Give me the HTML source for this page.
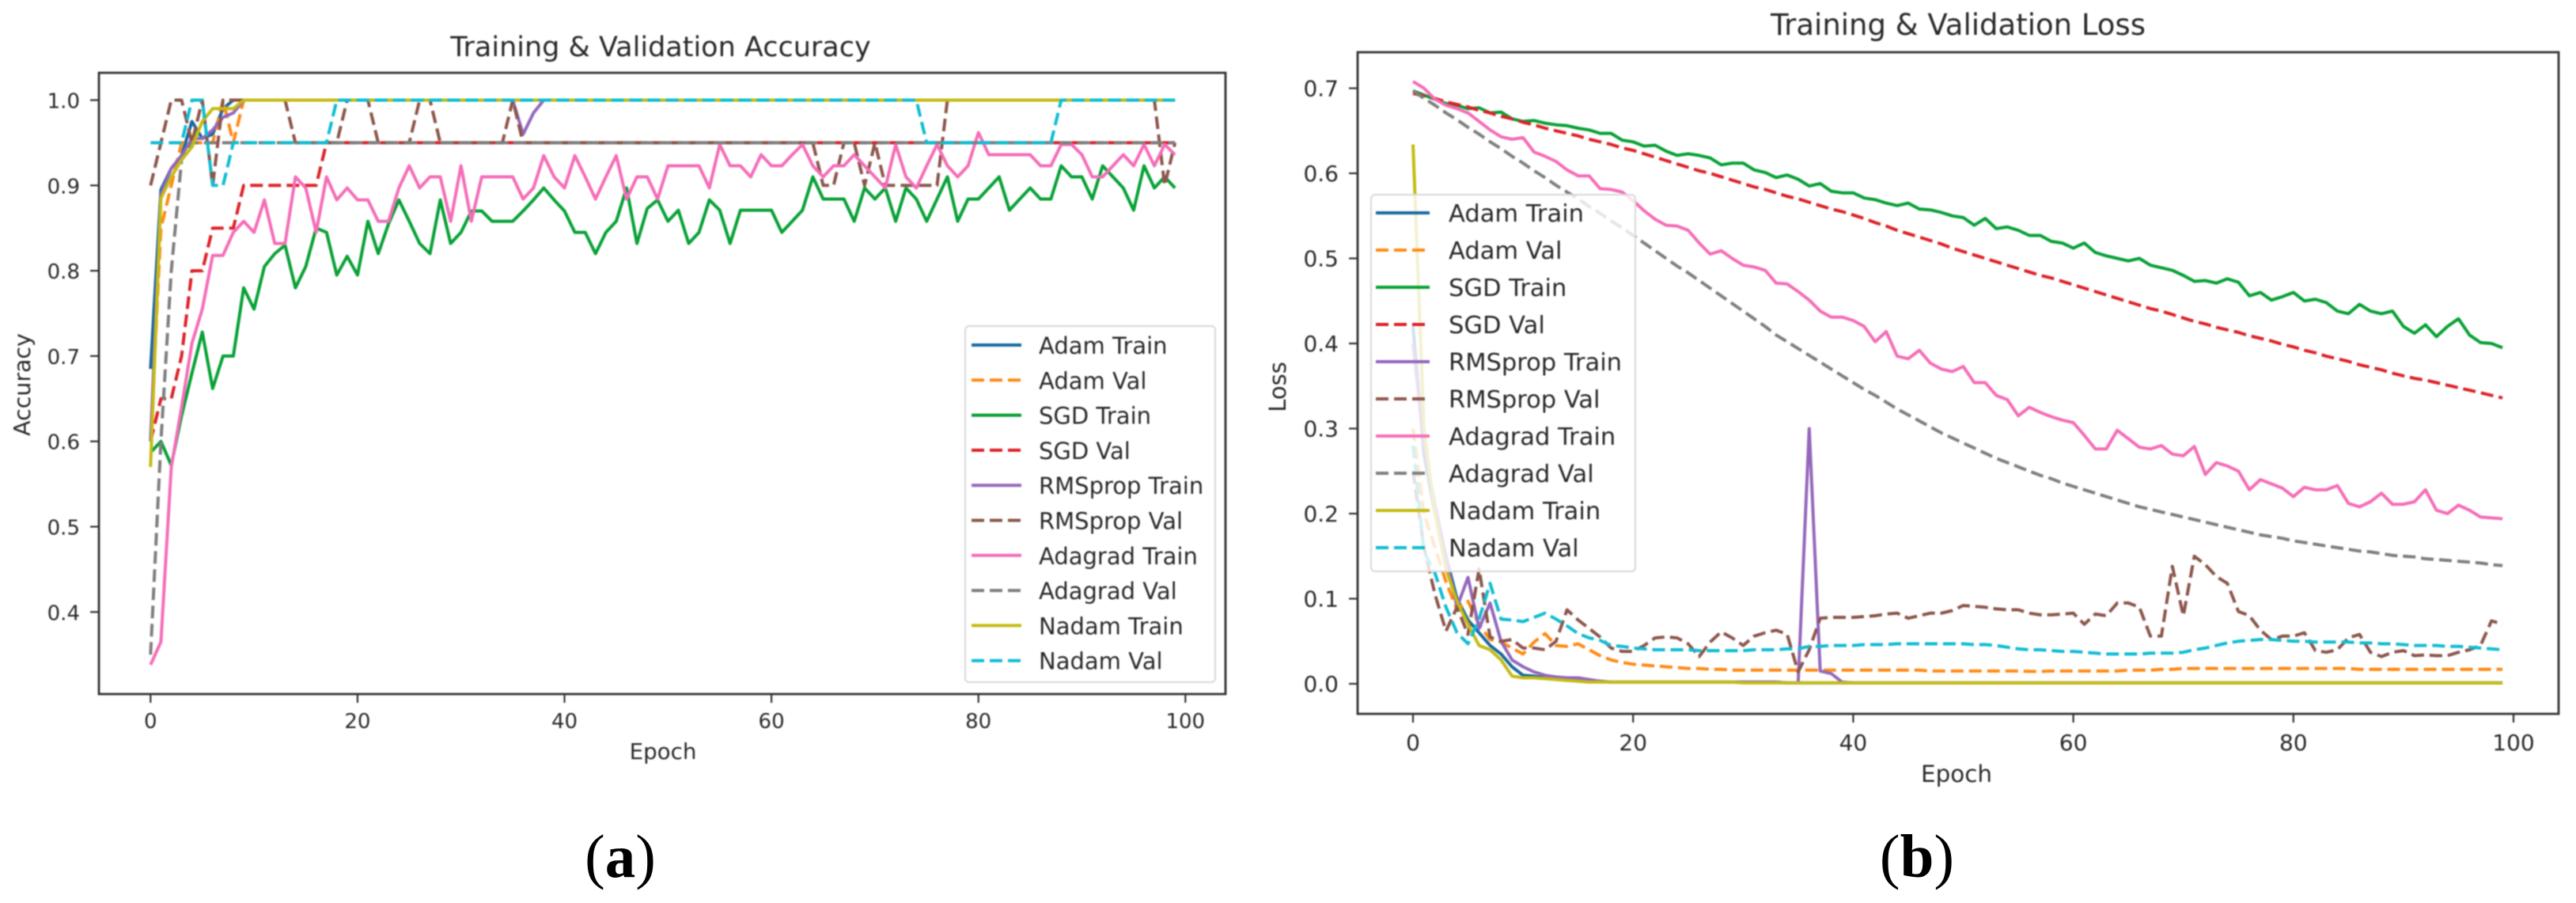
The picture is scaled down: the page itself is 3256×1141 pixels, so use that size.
<!DOCTYPE html>
<html lang="en">
<head>
<meta charset="utf-8">
<title>Training and Validation Curves</title>
<style>
html,body{margin:0;padding:0;background:#fff;width:3256px;height:1141px;overflow:hidden}
svg{display:block}
.dv{font-family:"DejaVu Sans","Liberation Sans",sans-serif;fill:#2a2a2a}
.cap{font-family:"Liberation Serif",serif;fill:#000;font-size:77px}
</style>
</head>
<body>
<svg id="fig" xmlns="http://www.w3.org/2000/svg" width="3256" height="1141" viewBox="0 0 3256 1141">
  <rect x="0" y="0" width="3256" height="1141" fill="#fff"/>
  <g id="chartA" style="filter:blur(0.7px)">
    <text class="dv" x="835" y="71" font-size="35" text-anchor="middle">Training &amp; Validation Accuracy</text>
    <text class="dv" x="838" y="959" font-size="27.7" text-anchor="middle">Epoch</text>
    <text class="dv" x="0" y="0" font-size="28.4" text-anchor="middle" transform="translate(38 486) rotate(-90)">Accuracy</text>
  </g>
  <g id="chartB" style="filter:blur(0.7px)">
    <text class="dv" x="2475" y="44" font-size="37" text-anchor="middle">Training &amp; Validation Loss</text>
    <text class="dv" x="2473" y="988" font-size="29.4" text-anchor="middle">Epoch</text>
    <text class="dv" x="0" y="0" font-size="29" text-anchor="middle" transform="translate(1625 489) rotate(-90)">Loss</text>
  </g>
  <text class="cap" x="784" y="1108" text-anchor="middle">(<tspan font-weight="bold">a</tspan>)</text>
  <text class="cap" x="2423" y="1108" text-anchor="middle">(<tspan font-weight="bold">b</tspan>)</text>
</svg>
<script>
const seriesNames = ["Adam Train","Adam Val","SGD Train","SGD Val","RMSprop Train","RMSprop Val","Adagrad Train","Adagrad Val","Nadam Train","Nadam Val"];
const accTickLabelsY = ["0.4","0.5","0.6","0.7","0.8","0.9","1.0"];
const lossTickLabelsY = ["0.0","0.1","0.2","0.3","0.4","0.5","0.6","0.7"];
const epochTickLabels = ["0","20","40","60","80","100"];

const accAdamTrain = [.685,.895,.92,.935,.975,.955,.96,.99,1,1,
1,1,1,1,1,1,1,1,1,1,1,1,1,1,1,1,1,1,1,1,
1,1,1,1,1,1,1,1,1,1,1,1,1,1,1,1,1,1,1,1,
1,1,1,1,1,1,1,1,1,1,1,1,1,1,1,1,1,1,1,1,
1,1,1,1,1,1,1,1,1,1,1,1,1,1,1,1,1,1,1,1];
const accAdamVal = [.6,.85,.9,.95,.95,.95,.95,1,.95,1,
1,1,1,1,1,1,1,1,1,1,1,1,1,1,1,1,1,1,1,1,
1,1,1,1,1,1,1,1,1,1,1,1,1,1,1,1,1,1,1,1,
1,1,1,1,1,1,1,1,1,1,1,1,1,1,1,1,1,1,1,1,
1,1,1,1,1,1,1,1,1,1,1,1,1,1,1,1,1,1,1,1];
const accSgdTrain = [.587,.6,.572,.63,.68,.728,.662,.70,.70,.78,
.755,.805,.82,.83,.78,.805,.85,.845,.795,.817,
.795,.858,.82,.855,.883,.858,.832,.82,.883,.832,
.845,.87,.87,.858,.858,.858,.87,.883,.897,.883,
.87,.845,.845,.82,.845,.858,.897,.832,.873,.883,
.858,.871,.832,.845,.883,.871,.832,.871,.871,.871,
.871,.845,.858,.871,.91,.884,.884,.884,.858,.897,
.884,.897,.858,.897,.884,.858,.884,.91,.858,.884,
.884,.897,.91,.871,.884,.897,.884,.884,.923,.91,
.91,.884,.923,.91,.897,.871,.923,.897,.91,.897];
const accSgdVal = [.6,.65,.65,.7,.8,.8,.85,.85,.85,.9,
.9,.9,.9,.9,.9,.9,.9,.95,.95,.95,
.95,.95,.95,.95,.95,.95,.95,.95,.95,.95,
.95,.95,.95,.95,.95,.95,.95,.95,.95,.95,
.95,.95,.95,.95,.95,.95,.95,.95,.95,.95,
.95,.95,.95,.95,.95,.95,.95,.95,.95,.95,
.95,.95,.95,.95,.95,.95,.95,.95,.95,.95,
.95,.95,.95,.95,.95,.95,.95,.95,.95,.95,
.95,.95,.95,.95,.95,.95,.95,.95,.95,.95,
.95,.95,.95,.95,.95,.95,.95,.95,.95,.95];
const accRmsTrain = [.6,.89,.92,.935,.955,.955,.965,.98,.985,1,
1,1,1,1,1,1,1,1,1,1,1,1,1,1,1,1,1,1,1,1,
1,1,1,1,1,1,.96,.985,1,1,
1,1,1,1,1,1,1,1,1,1,1,1,1,1,1,1,1,1,1,1,
1,1,1,1,1,1,1,1,1,1,1,1,1,1,1,1,1,1,1,1,
1,1,1,1,1,1,1,1,1,1,1,1,1,1,1,1,1,1,1,1];
const accRmsVal = [.9,.95,1,1,.95,1,.9,1,1,1,
1,1,1,1,.95,.95,.95,.95,.95,1,
1,1,.95,.95,.95,.95,1,1,.95,.95,
.95,.95,.95,.95,.95,1,.95,.95,.95,.95,
.95,.95,.95,.95,.95,.95,.95,.95,.95,.95,
.95,.95,.95,.95,.95,.95,.95,.95,.95,.95,
.95,.95,.95,.95,.95,.9,.9,.95,.95,.9,
.95,.9,.9,.9,.9,.9,.9,1,1,1,
1,1,1,1,1,1,1,1,1,1,
1,1,1,1,1,1,1,1,.9,.95];
const accAdagradTrain = [.338,.365,.57,.64,.715,.755,.818,.818,.845,.858,
.845,.883,.832,.832,.91,.897,.845,.91,.883,.897,
.883,.883,.858,.858,.897,.923,.897,.91,.91,.858,
.923,.858,.91,.91,.91,.91,.884,.897,.935,.91,
.897,.935,.91,.884,.91,.935,.884,.91,.91,.884,
.923,.923,.923,.923,.897,.948,.923,.923,.91,.936,
.923,.923,.936,.948,.923,.91,.923,.923,.936,.923,
.91,.897,.948,.91,.897,.923,.948,.923,.91,.923,
.962,.936,.936,.936,.936,.936,.923,.923,.948,.948,
.936,.91,.91,.923,.936,.923,.948,.923,.948,.936];
const accAdagradVal = [.35,.6,.8,.93,.95,.95,.95,.95,.95,.95,
.95,.95,.95,.95,.95,.95,.95,.95,.95,.95,
.95,.95,.95,.95,.95,.95,.95,.95,.95,.95,
.95,.95,.95,.95,.95,.95,.95,.95,.95,.95,
.95,.95,.95,.95,.95,.95,.95,.95,.95,.95,
.95,.95,.95,.95,.95,.95,.95,.95,.95,.95,
.95,.95,.95,.95,.95,.95,.95,.95,.95,.95,
.95,.95,.95,.95,.95,.95,.95,.95,.95,.95,
.95,.95,.95,.95,.95,.95,.95,.95,.95,.95,
.95,.95,.95,.95,.95,.95,.95,.95,.95,.95];
const accNadamTrain = [.57,.885,.91,.93,.945,.975,.99,.99,.99,1,
1,1,1,1,1,1,1,1,1,1,1,1,1,1,1,1,1,1,1,1,
1,1,1,1,1,1,1,1,1,1,1,1,1,1,1,1,1,1,1,1,
1,1,1,1,1,1,1,1,1,1,1,1,1,1,1,1,1,1,1,1,
1,1,1,1,1,1,1,1,1,1,1,1,1,1,1,1,1,1,1,1,
1,1,1,1,1,1,1,1,1,1];
const accNadamVal = [.95,.95,.95,.95,1,1,.9,.9,.95,.95,
.95,.95,.95,.95,.95,.95,.95,.95,1,1,
1,1,1,1,1,1,1,1,1,1,1,1,1,1,1,1,1,1,1,1,
1,1,1,1,1,1,1,1,1,1,1,1,1,1,1,1,1,1,1,1,
1,1,1,1,1,1,1,1,1,1,1,1,1,1,1,.95,.95,.95,.95,.95,
.95,.95,.95,.95,.95,.95,.95,.95,1,1,
1,1,1,1,1,1,1,1,1,1];

const lossAdamTrain = [.42,.27,.2,.15,.1,.075,.06,.045,.035,.02,
.01,.009,.007,.006,.005,.004,.003,.003,.002,.002,
.002,.002,.002,.002,.002,.002,.002,.002,.002,.002,
.002,.002,.002,.002,.001,.001,.001,.001,.001,.001,
.001,.001,.001,.001,.001,.001,.001,.001,.001,.001,
.001,.001,.001,.001,.001,.001,.001,.001,.001,.001,
.001,.001,.001,.001,.001,.001,.001,.001,.001,.001,
.001,.001,.001,.001,.001,.001,.001,.001,.001,.001,
.001,.001,.001,.001,.001,.001,.001,.001,.001,.001,
.001,.001,.001,.001,.001,.001,.001,.001,.001,.001];
const lossAdamVal = [.3,.2,.16,.12,.087,.097,.07,.052,.049,.042,
.035,.049,.059,.045,.044,.047,.04,.033,.028,.025,
.023,.022,.021,.02,.019,.018,.018,.017,.017,.016,
.016,.016,.016,.016,.016,.016,.016,.016,.016,.016,
.016,.016,.016,.016,.016,.016,.016,.015,.015,.015,
.015,.015,.015,.015,.015,.015,.0145,.0145,.015,.015,
.015,.015,.015,.015,.015,.016,.016,.016,.017,.017,
.018,.018,.018,.018,.018,.018,.018,.018,.018,.018,
.018,.018,.018,.018,.018,.018,.017,.017,.017,.017,
.017,.017,.017,.017,.017,.017,.017,.017,.017,.017];
const lossSgdTrain = [.697,.692,.687,.682,.68,.676,.677,.671,.672,.664,
.661,.662,.659,.657,.656,.653,.651,.647,.647,.639,
.637,.632,.633,.626,.621,.623,.621,.618,.61,.612,
.612,.604,.601,.595,.598,.593,.585,.588,.579,.577,
.577,.571,.569,.565,.562,.565,.558,.557,.554,.55,
.548,.539,.547,.535,.537,.533,.527,.527,.52,.518,
.512,.518,.507,.503,.5,.497,.5,.492,.489,.486,
.48,.473,.474,.471,.476,.472,.456,.46,.451,.455,
.46,.45,.452,.448,.438,.435,.446,.438,.435,.438,
.42,.412,.422,.408,.42,.429,.41,.401,.4,.395];
const lossSgdVal = [.694,.691,.688,.684,.681,.678,.674,.671,.667,.664,
.66,.657,.653,.65,.647,.644,.64,.637,.634,.63,
.627,.623,.619,.615,.611,.607,.603,.6,.596,.592,
.588,.584,.581,.577,.573,.57,.566,.562,.558,.555,
.551,.547,.542,.538,.533,.529,.525,.521,.517,.512,
.508,.504,.5,.496,.492,.488,.484,.48,.477,.473,
.469,.465,.461,.457,.453,.449,.445,.441,.438,.434,
.43,.426,.423,.419,.416,.413,.409,.406,.403,.399,
.396,.392,.389,.385,.382,.379,.375,.372,.369,.365,
.362,.359,.357,.354,.351,.348,.345,.342,.339,.336];
const lossRmsTrain = [.4,.28,.21,.15,.09,.125,.065,.095,.05,.028,
.02,.014,.01,.008,.007,.007,.005,.003,.002,.002,
.002,.002,.002,.002,.002,.002,.002,.002,.002,.002,
.002,.002,.002,.002,.001,.001,.30,.015,.012,.002,
.001,.001,.001,.001,.001,.001,.001,.001,.001,.001,
.001,.001,.001,.001,.001,.001,.001,.001,.001,.001,
.001,.001,.001,.001,.001,.001,.001,.001,.001,.001,
.001,.001,.001,.001,.001,.001,.001,.001,.001,.001,
.001,.001,.001,.001,.001,.001,.001,.001,.001,.001,
.001,.001,.001,.001,.001,.001,.001,.001,.001,.001];
const lossRmsVal = [.25,.16,.105,.062,.09,.058,.135,.055,.05,.052,
.042,.042,.04,.05,.087,.075,.065,.055,.042,.038,
.038,.045,.054,.055,.054,.047,.032,.049,.061,.054,
.045,.056,.06,.063,.058,.014,.04,.077,.078,.078,
.078,.079,.08,.082,.083,.077,.08,.083,.083,.086,
.092,.091,.09,.088,.087,.087,.083,.081,.081,.082,
.083,.07,.082,.08,.095,.095,.09,.056,.056,.138,
.08,.15,.14,.126,.118,.085,.08,.063,.052,.056,
.056,.06,.039,.037,.04,.054,.058,.037,.032,.037,
.039,.033,.034,.033,.033,.037,.04,.045,.074,.07];
const lossAdagradTrain = [.708,.7,.687,.68,.676,.671,.661,.651,.643,.64,
.642,.625,.62,.614,.604,.597,.597,.582,.581,.578,
.568,.556,.546,.539,.538,.533,.518,.505,.509,.5,
.492,.49,.486,.471,.47,.461,.451,.438,.431,.431,
.427,.42,.402,.414,.385,.382,.392,.377,.37,.367,
.373,.354,.354,.339,.334,.315,.325,.319,.314,.31,
.307,.292,.276,.276,.298,.288,.278,.276,.28,.27,
.268,.279,.246,.26,.256,.25,.228,.24,.235,.23,
.22,.231,.228,.228,.233,.212,.208,.214,.224,.211,
.211,.214,.228,.204,.2,.21,.204,.196,.195,.194];
const lossAdagradVal = [.697,.688,.68,.671,.663,.654,.646,.637,.629,.62,
.612,.603,.595,.586,.578,.57,.561,.553,.544,.536,
.527,.518,.509,.5,.491,.483,.474,.465,.456,.447,
.438,.429,.42,.41,.402,.394,.386,.378,.37,.362,
.354,.346,.339,.331,.323,.316,.309,.302,.295,.289,
.283,.277,.271,.265,.26,.255,.25,.245,.241,.236,
.232,.228,.224,.22,.216,.212,.208,.205,.202,.199,
.196,.193,.19,.187,.184,.181,.178,.175,.173,.171,
.168,.166,.164,.162,.16,.158,.156,.155,.153,.151,
.15,.149,.147,.146,.145,.144,.143,.142,.14,.139];
const lossNadamTrain = [.634,.3,.2,.135,.097,.07,.045,.04,.028,.009,
.007,.007,.006,.005,.004,.003,.002,.002,.002,.002,
.002,.002,.002,.002,.002,.002,.002,.002,.002,.002,
.001,.001,.001,.001,.001,.001,.001,.001,.001,.001,
.001,.001,.001,.001,.001,.001,.001,.001,.001,.001,
.001,.001,.001,.001,.001,.001,.001,.001,.001,.001,
.001,.001,.001,.001,.001,.001,.001,.001,.001,.001,
.001,.001,.001,.001,.001,.001,.001,.001,.001,.001,
.001,.001,.001,.001,.001,.001,.001,.001,.001,.001,
.001,.001,.001,.001,.001,.001,.001,.001,.001,.001];
const lossNadamVal = [.28,.155,.13,.09,.06,.047,.076,.118,.076,.075,
.073,.078,.083,.076,.068,.059,.054,.051,.045,.044,
.042,.041,.04,.04,.04,.04,.039,.039,.039,.039,
.039,.04,.04,.04,.041,.041,.044,.044,.045,.045,
.045,.046,.046,.046,.047,.047,.047,.047,.047,.047,
.047,.046,.046,.045,.043,.041,.04,.04,.039,.038,
.038,.037,.036,.035,.035,.035,.035,.036,.036,.036,
.037,.04,.042,.045,.048,.05,.051,.052,.052,.051,
.05,.05,.049,.049,.049,.049,.048,.048,.047,.047,
.046,.045,.045,.045,.044,.044,.043,.042,.041,.04];

const accSeries = [accAdamTrain,accAdamVal,accSgdTrain,accSgdVal,accRmsTrain,accRmsVal,accAdagradTrain,accAdagradVal,accNadamTrain,accNadamVal];
const lossSeries = [lossAdamTrain,lossAdamVal,lossSgdTrain,lossSgdVal,lossRmsTrain,lossRmsVal,lossAdagradTrain,lossAdagradVal,lossNadamTrain,lossNadamVal];

const NS = "http://www.w3.org/2000/svg";
const seriesColors = ["#17699f","#ff8a14","#08a136","#dd2228","#9467bd","#8c564b","#f56db8","#7f7f7f","#c4bb14","#0fbdd2"];

function xAcc(e){ return 190.3 + 13.08 * e; }
function yAcc(v){ return 126.5 + (1 - v) * 1078; }
function xLoss(e){ return 1786 + 13.91 * e; }
function yLoss(v){ return 864 - 1075 * v; }

function slug(s){ return s.toLowerCase().replace(/[^a-z0-9]+/g, "-"); }

function drawChart(group, prefix, box, xFn, yFn, seriesData, yLabels, legendBox){
  const frame = document.createElementNS(NS, "rect");
  
  
  frame.setAttribute("x", box.left);
  frame.setAttribute("y", box.top);
  frame.setAttribute("width", box.right - box.left);
  frame.setAttribute("height", box.bottom - box.top);
  frame.setAttribute("fill", "none");
  frame.setAttribute("stroke", "#333");
  frame.setAttribute("stroke-width", "2.8");
  group.appendChild(frame);

  epochTickLabels.forEach(function(label){
    const px = xFn(Number(label));
    const tick = document.createElementNS(NS, "line");
    
    
    tick.setAttribute("x1", px);
    tick.setAttribute("x2", px);
    tick.setAttribute("y1", box.bottom);
    tick.setAttribute("y2", box.bottom + 11);
    tick.setAttribute("stroke", "#333");
    tick.setAttribute("stroke-width", "2.2");
    group.appendChild(tick);
    const txt = document.createElementNS(NS, "text");
    
    
    txt.setAttribute("class", "dv");
    txt.setAttribute("x", px);
    txt.setAttribute("y", box.bottom + box.xLabelDy);
    txt.setAttribute("font-size", box.tickFont);
    txt.setAttribute("text-anchor", "middle");
    txt.textContent = label;
    group.appendChild(txt);
  });

  yLabels.forEach(function(label){
    const py = yFn(Number(label));
    const tick = document.createElementNS(NS, "line");
    
    
    tick.setAttribute("x1", box.left);
    tick.setAttribute("x2", box.left - 11);
    tick.setAttribute("y1", py);
    tick.setAttribute("y2", py);
    tick.setAttribute("stroke", "#333");
    tick.setAttribute("stroke-width", "2.2");
    group.appendChild(tick);
    const txt = document.createElementNS(NS, "text");
    
    
    txt.setAttribute("class", "dv");
    txt.setAttribute("x", box.left - 24);
    txt.setAttribute("y", py + 10);
    txt.setAttribute("font-size", box.tickFont);
    txt.setAttribute("text-anchor", "end");
    txt.textContent = label;
    group.appendChild(txt);
  });

  seriesData.forEach(function(values, i){
    const isVal = i % 2 === 1;
    const d = values.map(function(v, e){
      return (e === 0 ? "M" : "L") + xFn(e).toFixed(1) + " " + yFn(v).toFixed(1);
    }).join(" ");
    const line = document.createElementNS(NS, "path");
    
    
    line.setAttribute("d", d);
    line.setAttribute("fill", "none");
    line.setAttribute("stroke", seriesColors[i]);
    line.setAttribute("stroke-width", "4");
    line.setAttribute("stroke-linejoin", "round");
    if (isVal) line.setAttribute("stroke-dasharray", "16 7");
    group.appendChild(line);
  });

  const legend = document.createElementNS(NS, "g");
  
  
  const bg = document.createElementNS(NS, "rect");
  
  
  bg.setAttribute("x", legendBox.left);
  bg.setAttribute("y", legendBox.top);
  bg.setAttribute("width", legendBox.right - legendBox.left);
  bg.setAttribute("height", legendBox.bottom - legendBox.top);
  bg.setAttribute("rx", "5");
  bg.setAttribute("fill", "rgba(255,255,255,0.8)");
  bg.setAttribute("stroke", "#d8d8d8");
  bg.setAttribute("stroke-width", "2");
  legend.appendChild(bg);
  seriesNames.forEach(function(name, i){
    const rowY = legendBox.firstRow + legendBox.rowGap * i;
    const handle = document.createElementNS(NS, "line");
    
    
    handle.setAttribute("x1", legendBox.handleX1);
    handle.setAttribute("x2", legendBox.handleX2);
    handle.setAttribute("y1", rowY);
    handle.setAttribute("y2", rowY);
    handle.setAttribute("stroke", seriesColors[i]);
    handle.setAttribute("stroke-width", "4");
    if (i % 2 === 1) handle.setAttribute("stroke-dasharray", "16 7");
    legend.appendChild(handle);
    const label = document.createElementNS(NS, "text");
    
    
    label.setAttribute("class", "dv");
    label.setAttribute("x", legendBox.textX);
    label.setAttribute("y", rowY + 11);
    label.setAttribute("font-size", legendBox.font);
    label.textContent = name;
    legend.appendChild(label);
  });
  group.appendChild(legend);
}

drawChart(document.getElementById("chartA"), "accuracy",
  {left:125, top:92, right:1549, bottom:877, xLabelDy:43, tickFont:26},
  xAcc, yAcc, accSeries, accTickLabelsY,
  {left:1220, top:412, right:1536, bottom:862, firstRow:436, rowGap:44.3, handleX1:1228, handleX2:1291, textX:1313, font:29});

drawChart(document.getElementById("chartB"), "loss",
  {left:1716, top:66, right:3234, bottom:902, xLabelDy:46, tickFont:28},
  xLoss, yLoss, lossSeries, lossTickLabelsY,
  {left:1733, top:246, right:2067, bottom:722, firstRow:269, rowGap:47, handleX1:1739, handleX2:1807, textX:1831, font:30.5});
</script>
</body>
</html>
